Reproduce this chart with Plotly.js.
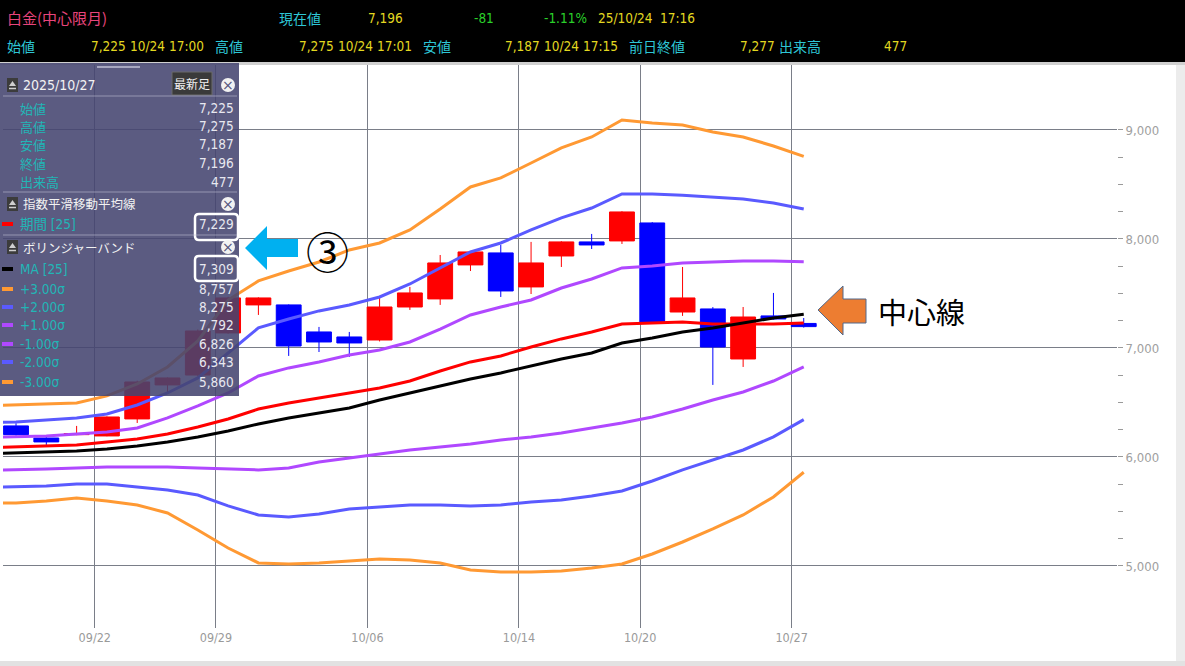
<!DOCTYPE html>
<html><head><meta charset="utf-8">
<script src="https://cdn.plot.ly/plotly-3.0.1.min.js"></script>
<style>html,body{margin:0;padding:0;background:#fff;overflow:hidden}#chart{width:1185px;height:666px}</style>
</head><body><div id="chart"></div>
<script>
// ---- data ----
const dates = ['09/17','09/18','09/19','09/22','09/24','09/25','09/26','09/29','09/30','10/01','10/02','10/03','10/06','10/07','10/08','10/09','10/10','10/14','10/15','10/16','10/17','10/20','10/21','10/22','10/23','10/24','10/27'];
const openP  = [6285,6174,6205,6193,6349,6661,6752,7138,7395,7395,7147,7101,7073,7376,7450,7762,7872,7560,7844,7973,7982,8147,7330,7358,6899,7294,7225];
const highP  = [6310,6185,6285,6372,6700,6730,7170,7470,7465,7400,7193,7147,7459,7560,7853,7890,7945,7973,7980,8046,8255,8155,7743,7375,7376,7505,7275];
const lowP   = [6195,6110,6200,6190,6312,6590,6740,7130,7303,6927,6963,6918,7060,7349,7395,7706,7468,7495,7743,7908,7954,7230,7294,6661,6826,7260,7187];
const closeP = [6205,6138,6215,6367,6688,6725,7156,7459,7459,7018,7055,7046,7376,7505,7780,7881,7523,7780,7973,7945,8248,7239,7459,7009,7284,7266,7196];
const volumeLast = 477;
// indicator lines start one session earlier (09/16, candle off-screen)
const lineDates = ['09/16'].concat(dates);
const ema25 = [6085,6092,6101,6110,6138,6165,6211,6275,6348,6440,6496,6541,6587,6633,6697,6789,6872,6927,7009,7083,7147,7220,7229,7239,7220,7220,7220,7229];
const ma25  = [6030,6037,6046,6055,6073,6101,6138,6184,6239,6303,6358,6404,6450,6523,6587,6651,6716,6771,6835,6899,6954,7046,7092,7147,7184,7229,7275,7309];
const up3   = [6470,6477,6486,6496,6560,6670,6826,7064,7440,7615,7706,7789,7899,7963,8083,8275,8477,8560,8697,8835,8936,9092,9064,9046,8982,8936,8853,8757];
const up2   = [6315,6321,6340,6358,6395,6477,6587,6725,6954,7184,7266,7340,7395,7468,7587,7734,7881,7963,8083,8193,8284,8413,8413,8400,8385,8367,8330,8275];
const up1   = [6180,6184,6193,6211,6229,6266,6358,6468,6587,6743,6817,6872,6936,6982,7055,7174,7303,7376,7440,7550,7633,7734,7752,7780,7789,7798,7798,7792];
const dn1   = [5876,5881,5890,5899,5908,5908,5908,5899,5890,5881,5899,5954,5991,6028,6064,6092,6119,6156,6184,6220,6266,6312,6367,6440,6523,6596,6697,6826];
const dn2   = [5720,5725,5734,5752,5752,5725,5697,5651,5551,5468,5450,5477,5523,5541,5560,5560,5551,5560,5587,5605,5642,5688,5780,5881,5973,6064,6184,6343];
const dn3   = [5575,5578,5596,5624,5596,5560,5486,5330,5165,5028,5018,5028,5046,5064,5055,5028,4963,4945,4945,4954,4982,5018,5110,5220,5340,5468,5633,5860];
const tickDates = ['09/22','09/29','10/06','10/14','10/20','10/27'];
const yTicks = [5000,6000,7000,8000,9000];

// ---- geometry helpers (layout only) ----
const PL = 3, PR = 1117, PT = 65, PB = 628;
const px = v => (v - PL) / (PR - PL);
const py = v => (PB - v) / (PB - PT);
const fmt = v => v.toLocaleString('en-US');

const NARROW = '"DejaVu Sans Condensed", "Noto Sans CJK JP", sans-serif';
const JP = '"Noto Sans CJK JP", sans-serif';

const candleX = dates.map((d, i) => i);
const lineX = lineDates.map((d, i) => i - 1);

const traces = [{
  type: 'candlestick', x: candleX, open: openP, high: highP, low: lowP, close: closeP,
  increasing: {line: {color: '#ff0000', width: 1}, fillcolor: '#ff0000'},
  decreasing: {line: {color: '#0000ff', width: 1}, fillcolor: '#0000ff'},
  whiskerwidth: 0, showlegend: false, hoverinfo: 'skip'
}];
const lineDefs = [
  [dn3, '#ff9933'], [dn2, '#5a5aff'], [dn1, '#b048ff'],
  [up3, '#ff9933'], [up2, '#5a5aff'], [up1, '#b048ff'],
  [ema25, '#ff0000'], [ma25, '#000000']
];
lineDefs.forEach(([arr, c]) => traces.push({
  type: 'scatter', mode: 'lines', x: lineX, y: arr,
  line: {color: c, width: 3}, showlegend: false, hoverinfo: 'skip'
}));

// minor ticks every 250 between the labelled thousands
const minorVals = [];
for (let i = 0; i < yTicks.length - 1; i++) for (let k = 1; k < 4; k++) minorVals.push(yTicks[i] + k * (yTicks[i+1] - yTicks[i]) / 4);

const shapes = [];
const ann = [];
function rect(x0, y0, x1, y1, fill, line) {
  shapes.push({type: 'rect', xref: 'paper', yref: 'paper', x0: px(x0), x1: px(x1), y0: py(y1), y1: py(y0),
    fillcolor: fill, line: line || {width: 0}, layer: 'above'});
}
function seg(x0, y0, x1, y1, color, w) {
  shapes.push({type: 'line', xref: 'paper', yref: 'paper', x0: px(x0), x1: px(x1), y0: py(y0), y1: py(y1),
    line: {color: color, width: w}, layer: 'above'});
}
function poly(pts, fill, line) {
  const d = pts.map((p, i) => (i ? 'L' : 'M') + px(p[0]) + ',' + py(p[1])).join(' ') + ' Z';
  shapes.push({type: 'path', xref: 'paper', yref: 'paper', path: d, fillcolor: fill, line: line || {width: 0}, layer: 'above'});
}
function rrect(x0, y0, x1, y1, r, color, w) {
  const P = (x, y) => px(x) + ',' + py(y);
  const d = 'M' + P(x0 + r, y0) + ' L' + P(x1 - r, y0) + ' Q' + P(x1, y0) + ' ' + P(x1, y0 + r) +
    ' L' + P(x1, y1 - r) + ' Q' + P(x1, y1) + ' ' + P(x1 - r, y1) + ' L' + P(x0 + r, y1) +
    ' Q' + P(x0, y1) + ' ' + P(x0, y1 - r) + ' L' + P(x0, y0 + r) + ' Q' + P(x0, y0) + ' ' + P(x0 + r, y0) + ' Z';
  shapes.push({type: 'path', xref: 'paper', yref: 'paper', path: d, line: {color: color, width: w}, layer: 'above'});
}
function txt(t, x, y, size, color, family, anchor, extra) {
  ann.push(Object.assign({text: t, x: px(x), y: py(y), xref: 'paper', yref: 'paper', showarrow: false,
    xanchor: anchor || 'left', yanchor: 'middle', borderpad: 0,
    font: {size: size, color: color, family: family}}, extra || {}));
}

// header
rect(0, 0, 1185, 62, '#000000');
rect(0, 62, 1185, 65, '#d0d0d0');
rect(1176, 65, 1185, 666, '#ececec');
rect(0, 661, 1185, 666, '#e2e2e2');
const CY = '#2ec6d6', YL = '#e3d820', GR = '#2ad02a';
const HS = 13.5, HJ = 14;
txt('白金(中心限月)', 6, 18, 15, '#e8457c', JP);
txt('現在値', 278, 18, HJ, CY, JP);
txt(fmt(closeP[closeP.length-1]), 367, 18, HS, YL, NARROW);
txt('-81', 473, 18, HS, GR, NARROW);
txt('-1.11%', 543, 18, HS, GR, NARROW);
txt('25/10/24', 597, 18, HS, YL, NARROW);
txt('17:16', 659, 18, HS, YL, NARROW);
txt('始値', 6, 46, HJ, CY, JP);
txt('7,225', 90, 46, HS, YL, NARROW); txt('10/24', 129, 46, HS, YL, NARROW); txt('17:00', 168, 46, HS, YL, NARROW);
txt('高値', 214, 46, HJ, CY, JP);
txt('7,275', 298, 46, HS, YL, NARROW); txt('10/24', 337, 46, HS, YL, NARROW); txt('17:01', 376, 46, HS, YL, NARROW);
txt('安値', 422, 46, HJ, CY, JP);
txt('7,187', 504, 46, HS, YL, NARROW); txt('10/24', 543, 46, HS, YL, NARROW); txt('17:15', 582, 46, HS, YL, NARROW);
txt('前日終値', 628, 46, HJ, CY, JP);
txt('7,277', 739, 46, HS, YL, NARROW);
txt('出来高', 778, 46, HJ, CY, JP);
txt(String(volumeLast), 883, 46, HS, YL, NARROW);

// info panel
rect(0, 63, 239, 396, 'rgba(68,68,111,0.88)');
seg(97, 67, 140, 67, 'rgba(200,200,220,0.7)', 2);
function eject(y) {
  rect(7, y - 7, 18, y + 7, '#3c3c3c');
  poly([[9, y + 1], [12.5, y - 4], [16, y + 1]], '#cfcfcf');
  seg(9, y + 3.5, 16, y + 3.5, '#cfcfcf', 1.5);
}
function closeIcon(y) {
  shapes.push({type: 'circle', xref: 'paper', yref: 'paper', x0: px(221), x1: px(235), y0: py(y + 7), y1: py(y - 7),
    fillcolor: '#f2f2f2', line: {width: 0}, layer: 'above'});
  txt('×', 228, y, 14, '#55557a', 'DejaVu Sans', 'center');
}
const VAL = '#e8e8f0', LAB = '#22b6b6', PS = 13.5;
eject(85); txt('2025/10/27', 22, 85, 14, '#f2f2f2', NARROW);
rect(172, 72, 212, 95, '#3a3a3a', {color: '#6a6a6a', width: 1});
txt('最新足', 192, 83, 12, '#f0f0f0', JP, 'center');
closeIcon(85);
seg(3, 96, 237, 96, 'rgba(190,190,210,0.6)', 1);
const ohlcLabels = ['始値', '高値', '安値', '終値', '出来高'];
const last = closeP.length - 1;
const ohlcVals = [openP[last], highP[last], lowP[last], closeP[last], volumeLast];
const ohlcY = [108, 126, 144, 163, 182];
ohlcLabels.forEach((l, i) => { txt(l, 19, ohlcY[i], 13, LAB, JP); txt(fmt(ohlcVals[i]), 235, ohlcY[i], PS, VAL, NARROW, 'right'); });
seg(3, 192, 237, 192, 'rgba(190,190,210,0.6)', 1);
eject(204); txt('指数平滑移動平均線', 22, 204, 12.5, '#f2f2f2', JP); closeIcon(204);
seg(2, 224, 13, 224, '#ff0000', 4);
txt('期間 [25]', 19, 224, 13.5, LAB, NARROW);
txt(fmt(ema25[ema25.length-1]), 235, 224, PS, VAL, NARROW, 'right');
rrect(195, 214, 238, 240, 4, '#ffffff', 2.5);
seg(3, 235, 237, 235, 'rgba(190,190,210,0.6)', 1);
eject(247); txt('ボリンジャーバンド', 22, 247, 12.5, '#f2f2f2', JP); closeIcon(247);
const bandRows = [
  ['MA [25]', ma25, '#000000', 269],
  ['+3.00σ', up3, '#ff9933', 289],
  ['+2.00σ', up2, '#5a5aff', 307],
  ['+1.00σ', up1, '#b048ff', 325],
  ['-1.00σ', dn1, '#b048ff', 344],
  ['-2.00σ', dn2, '#5a5aff', 362],
  ['-3.00σ', dn3, '#ff9933', 382]
];
bandRows.forEach(([l, arr, c, y]) => {
  seg(2, y, 13, y, c, 4);
  txt(l, 19, y, PS, LAB, NARROW);
  txt(fmt(arr[arr.length-1]), 235, y, PS, VAL, NARROW, 'right');
});
rrect(195, 256, 238, 281, 4, '#ffffff', 2.5);

// call-outs
poly([[245,248],[267,226],[267,239],[298,239],[298,257],[267,257],[267,270]], '#00b0f0');
txt('③', 327, 250, 43, '#000000', JP, 'center');
poly([[818,310],[843,286],[843,299],[866,299],[866,323],[843,323],[843,335]], '#ed7d31', {color: '#50698c', width: 1});
txt('中心線', 877, 311, 29, '#000000', JP);

const layout = {
  width: 1185, height: 666,
  margin: {l: PL, r: 1185 - PR, t: PT, b: 666 - PB, pad: 0},
  paper_bgcolor: '#ffffff', plot_bgcolor: '#ffffff',
  showlegend: false, hovermode: false,
  boxgap: 0.18, boxgroupgap: 0,
  xaxis: {
    range: [-0.43, 36.34], tickmode: 'array',
    tickvals: tickDates.map(d => dates.indexOf(d) - 0.4), ticktext: tickDates,
    showgrid: true, gridcolor: '#7a7e88', gridwidth: 1, zeroline: false, showline: false, ticks: '',
    tickfont: {size: 12.5, color: '#9a9a9a', family: NARROW},
    rangeslider: {visible: false}, fixedrange: true
  },
  yaxis: {
    range: [4431, 9596], side: 'right', tickmode: 'array',
    tickvals: yTicks, ticktext: yTicks.map(fmt),
    showgrid: true, gridcolor: '#7a7e88', gridwidth: 1, zeroline: false, showline: false,
    ticks: 'outside', ticklen: 5, tickcolor: '#9a9a9a',
    tickfont: {size: 13, color: '#a0a0a0', family: NARROW},
    minor: {tickmode: 'array', tickvals: minorVals, ticks: 'outside', ticklen: 5, tickcolor: '#9a9a9a', showgrid: false},
    fixedrange: true
  },
  shapes: shapes, annotations: ann
};
Plotly.newPlot('chart', traces, layout, {staticPlot: true, displayModeBar: false});
</script></body></html>
